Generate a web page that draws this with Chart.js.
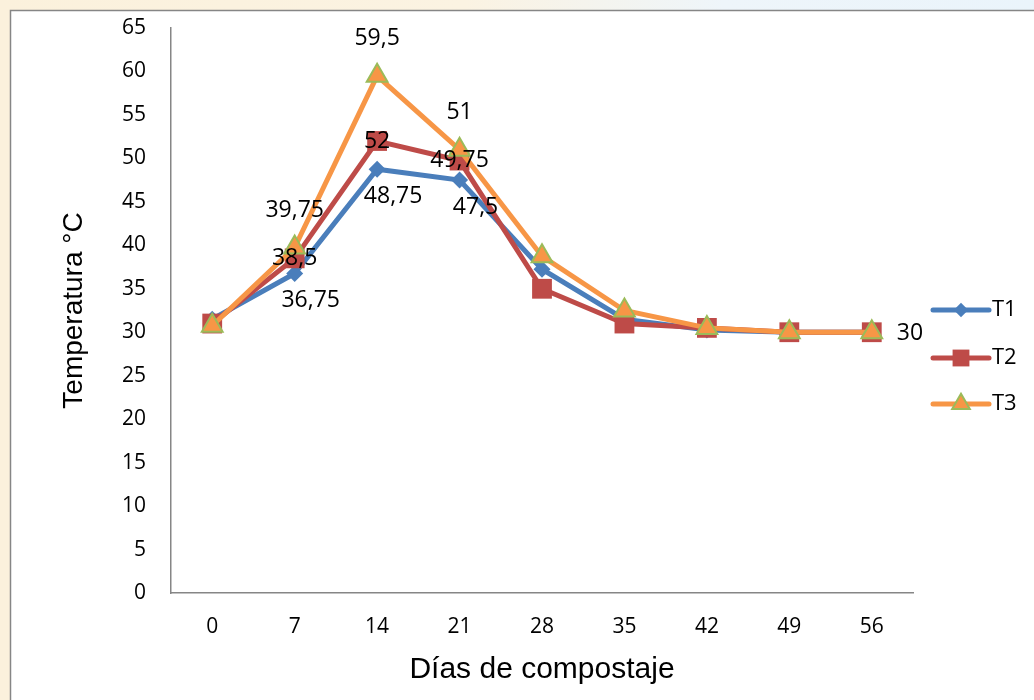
<!DOCTYPE html>
<html>
<head>
<meta charset="utf-8">
<script src="https://cdn.jsdelivr.net/npm/chart.js@4/dist/chart.umd.min.js"></script>
<style>
  html, body { margin: 0; padding: 0; background: #ffffff; }
  #wrap { width: 1034px; height: 700px; position: relative; }
</style>
</head>
<body>
<div id="wrap"><canvas id="c" width="1034" height="700"></canvas></div>
<script>
// ---- data ----
const days = ['0', '7', '14', '21', '28', '35', '42', '49', '56'];
const seriesNames = ['T1', 'T2', 'T3'];
const t1 = [31.5, 36.75, 48.75, 47.5, 37.25, 31.5, 30.25, 30, 30];
const t2 = [31, 38.5, 52, 49.75, 35, 31, 30.5, 30, 30];
const t3 = [30.75, 39.75, 59.5, 51, 38.75, 32.5, 30.5, 30, 30];
const yMin = 0, yMax = 65, yStep = 5;
// indices of points that carry a value label
const t1LabelIdx = [1, 2, 3];
const t2LabelIdx = [1, 2, 3, 8];
const t3LabelIdx = [1, 2, 3];

const fmt = v => String(v).replace('.', ',');

const bgPlugin = {
  id: 'bgFrame',
  beforeDraw(chart) {
    const ctx = chart.ctx;
    ctx.save();
    const g = ctx.createLinearGradient(0, 0, 1034, 0);
    g.addColorStop(0, '#fbf1dc');
    g.addColorStop(0.45, '#fbf3e2');
    g.addColorStop(0.7, '#eef5fa');
    g.addColorStop(1, '#eaf4fb');
    ctx.fillStyle = g;
    ctx.fillRect(0, 0, chart.width, chart.height);
    ctx.fillStyle = '#ffffff';
    ctx.fillRect(10, 10, chart.width, chart.height);
    ctx.strokeStyle = '#868686';
    ctx.lineWidth = 1.5;
    ctx.strokeRect(10.5, 10.5, chart.width + 20, chart.height + 20);
    ctx.restore();
  }
};

const labelPlugin = {
  id: 'valueLabels',
  afterDatasetsDraw(chart) {
    const ctx = chart.ctx;
    const specs = [
      { idx: t1LabelIdx, dx: 16, dy: 27, align: 'center' },
      { idx: t2LabelIdx, dx: 0, dy: 0, align: 'center' },
      { idx: t3LabelIdx, dx: 0, dy: -37, align: 'center' }
    ];
    ctx.save();
    ctx.font = '23px "Open Sans"';
    ctx.fillStyle = '#000000';
    ctx.textBaseline = 'middle';
    specs.forEach((s, di) => {
      const meta = chart.getDatasetMeta(di);
      const data = chart.data.datasets[di].data;
      s.idx.forEach(i => {
        const p = meta.data[i];
        if (i === data.length - 1) {
          ctx.textAlign = 'left';
          ctx.fillText(fmt(data[i]), p.x + 25, p.y + 1);
        } else {
          ctx.textAlign = s.align;
          ctx.fillText(fmt(data[i]), p.x + s.dx, p.y + s.dy);
        }
      });
    });
    ctx.restore();
  }
};

function drawMarker(ctx, style, r, x, y) {
  ctx.beginPath();
  if (style === 'rectRot') {
    ctx.moveTo(x, y - r); ctx.lineTo(x + r, y); ctx.lineTo(x, y + r); ctx.lineTo(x - r, y); ctx.closePath();
  } else if (style === 'rect') {
    const s = Math.SQRT1_2 * r;
    ctx.rect(x - s, y - s, 2 * s, 2 * s);
  } else {
    ctx.moveTo(x, y - r);
    ctx.lineTo(x + r * Math.sin(2 * Math.PI / 3), y - r * Math.cos(2 * Math.PI / 3));
    ctx.lineTo(x + r * Math.sin(4 * Math.PI / 3), y - r * Math.cos(4 * Math.PI / 3));
    ctx.closePath();
  }
}

const legendPlugin = {
  id: 'sideLegend',
  afterDraw(chart) {
    const ctx = chart.ctx;
    const x0 = 933, x1 = 989, ys = [310, 358, 404];
    ctx.save();
    chart.data.datasets.forEach((ds, i) => {
      const y = ys[i];
      ctx.strokeStyle = ds.borderColor;
      ctx.lineWidth = 5;
      ctx.lineCap = 'round';
      ctx.beginPath();
      ctx.moveTo(x0, y);
      ctx.lineTo(x1, y);
      ctx.stroke();
      ctx.lineCap = 'butt';
      ctx.fillStyle = ds.pointBackgroundColor;
      ctx.strokeStyle = ds.pointBorderColor;
      ctx.lineWidth = ds.pointBorderWidth;
      drawMarker(ctx, ds.pointStyle, ds.pointRadius * 0.85, (x0 + x1) / 2, y);
      ctx.fill();
      if (ds.pointBorderWidth > 0) ctx.stroke();
      ctx.fillStyle = '#000000';
      ctx.font = '22px "Open Sans"';
      ctx.textAlign = 'left';
      ctx.textBaseline = 'middle';
      ctx.fillText(ds.label, x1 + 3, y);
    });
    ctx.restore();
  }
};

new Chart(document.getElementById('c'), {
  type: 'line',
  data: {
    labels: days,
    datasets: [
      {
        label: seriesNames[0], data: t1, order: 2,
        borderColor: '#4a7ebb', backgroundColor: '#4a7ebb', borderWidth: 5,
        pointStyle: 'rectRot', pointRadius: 8.5, pointHoverRadius: 8.5,
        pointBackgroundColor: '#4a7ebb', pointBorderColor: '#4a7ebb', pointBorderWidth: 0,
        tension: 0, fill: false
      },
      {
        label: seriesNames[1], data: t2, order: 1,
        borderColor: '#be4b48', backgroundColor: '#be4b48', borderWidth: 5,
        pointStyle: 'rect', pointRadius: 14, pointHoverRadius: 14,
        pointBackgroundColor: '#be4b48', pointBorderColor: '#be4b48', pointBorderWidth: 0,
        tension: 0, fill: false
      },
      {
        label: seriesNames[2], data: t3, order: 0,
        borderColor: '#f79646', backgroundColor: '#f79646', borderWidth: 5,
        pointStyle: 'triangle', pointRadius: 12, pointHoverRadius: 12,
        pointBackgroundColor: '#f79646', pointBorderColor: '#9bbb59', pointBorderWidth: 2,
        tension: 0, fill: false
      }
    ]
  },
  options: {
    responsive: false,
    animation: false,
    events: [],
    layout: { padding: { left: 0, top: 28, right: 121, bottom: 0 } },
    plugins: { legend: { display: false }, tooltip: { enabled: false } },
    scales: {
      x: {
        type: 'category',
        offset: true,
        grid: { display: false, drawTicks: false, tickLength: 0 },
        border: { display: true, color: '#868686', width: 1.5 },
        ticks: { color: '#000000', font: { family: 'Open Sans', size: 21 }, padding: 21, maxRotation: 0, autoSkip: false },
        title: { display: true, text: 'Días de compostaje', color: '#000000',
                 font: { family: 'Liberation Sans', size: 30 }, padding: { top: 12, bottom: 12 } },
        afterFit(scale) { scale.height = 107; scale.paddingLeft = 0; scale.paddingRight = 0; }
      },
      y: {
        min: yMin, max: yMax,
        grid: { display: false, drawTicks: false, tickLength: 0 },
        border: { display: true, color: '#868686', width: 1.5 },
        ticks: { stepSize: yStep, color: '#000000', font: { family: 'Open Sans', size: 21 }, padding: 25 },
        title: { display: true, text: 'Temperatura °C', color: '#000000',
                 font: { family: 'Liberation Sans', size: 28 }, padding: { top: 57, bottom: 0 } },
        afterFit(scale) { scale.width = 171; scale.paddingTop = 0; scale.paddingBottom = 0; }
      }
    }
  },
  plugins: [bgPlugin, labelPlugin, legendPlugin]
});
</script>
</body>
</html>
